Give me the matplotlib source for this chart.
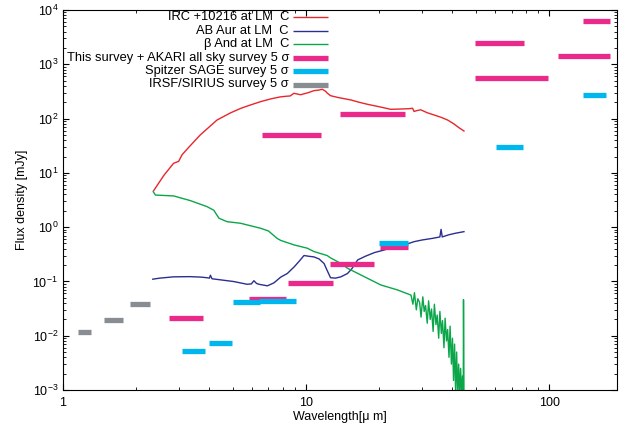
import numpy as np
import matplotlib.pyplot as plt

plt.rcParams['font.family'] = ['Liberation Sans', 'DejaVu Sans']
plt.rcParams['mathtext.fontset'] = 'custom'
plt.rcParams['mathtext.rm'] = 'Liberation Sans'

# spectra (wavelength in um, flux in mJy)
irc_wl = [2.36, 2.6, 2.85, 2.99, 3.09, 3.3, 3.67, 4.3, 4.88, 5.4, 5.9, 6.5, 7.14, 7.8,
          8.3, 8.6, 8.9, 9.5, 10.2, 10.77, 11.3, 11.65, 12.0, 12.24, 12.6, 13.5, 15.3,
          16.5, 17.9, 20.0, 22.3, 24.5, 26.5, 27.4, 27.8, 28.5, 29.6, 31.5, 33.7, 36.0,
          38.2, 40.5, 42.5, 44.6]
irc_flux = [4.7, 9.0, 15.0, 16.3, 21.6, 30.0, 50.0, 94.0, 127.0, 155.0, 178.0, 205.0,
            230.0, 250.0, 258.0, 261.0, 292.0, 275.0, 300.0, 327.0, 335.0, 347.0, 320.0,
            292.0, 264.0, 245.0, 220.0, 200.0, 183.0, 165.0, 148.0, 150.0, 152.0, 155.0,
            135.0, 140.0, 145.0, 128.0, 116.0, 105.0, 94.0, 80.0, 68.0, 59.0]

abaur_wl = [2.34, 2.5, 2.85, 3.34, 3.7, 3.91, 4.0, 4.04, 4.1, 4.44, 5.04, 5.72, 5.95, 6.1,
            6.25, 6.4, 6.93, 7.37, 7.86, 8.37, 8.93, 9.4, 9.8, 10.3, 10.77, 11.3, 11.85,
            12.2, 12.6, 13.2, 13.9, 14.8, 15.4, 16.3, 17.5, 19.1, 20.5, 22.3, 25.0, 27.8,
            30.0, 33.0, 35.5, 35.9, 36.3, 38.5, 41.0, 44.6]
abaur_flux = [0.11, 0.115, 0.1215, 0.1225, 0.12, 0.117, 0.115, 0.13, 0.112, 0.107, 0.0995,
              0.0886, 0.09, 0.103, 0.092, 0.0886, 0.083, 0.094, 0.12, 0.14, 0.1855, 0.24,
              0.3, 0.29, 0.283, 0.26, 0.214, 0.16, 0.117, 0.115, 0.1215, 0.14, 0.17, 0.249,
              0.29, 0.34, 0.37, 0.41, 0.46, 0.54, 0.58, 0.62, 0.66, 0.91, 0.66, 0.72, 0.77, 0.826]

band_wl = [2.35, 2.4, 2.85, 3.34, 3.91, 4.17, 4.38, 4.73, 5.37, 6.49, 7.0, 7.6, 7.86,
           8.93, 10.1, 10.77, 12.2, 12.6, 13.9, 14.8, 17.3, 20.3, 23.7, 27.0, 27.5, 27.9,
           28.4, 28.8, 29.3, 29.7, 30.2, 30.6, 31.0, 31.5, 31.9, 32.4, 32.8, 33.3, 33.7,
           34.2, 34.6, 35.1, 35.5, 36.0, 36.4, 36.9, 37.3, 37.8, 38.2, 38.7, 39.1, 39.6,
           40.0, 40.4, 40.8, 41.2, 41.6, 42.0, 42.4, 42.8, 43.2, 43.6, 44.0, 44.3, 44.4, 44.6]
band_flux = [4.5, 3.9, 3.76, 3.08, 2.39, 2.05, 1.46, 1.26, 1.18, 0.955, 0.85, 0.62, 0.57,
             0.47, 0.41, 0.355, 0.3, 0.272, 0.214, 0.175, 0.123, 0.086, 0.07, 0.056, 0.038,
             0.062, 0.03, 0.048, 0.041, 0.022, 0.052, 0.028, 0.036, 0.017, 0.044, 0.02,
             0.031, 0.012, 0.038, 0.016, 0.024, 0.009, 0.028, 0.011, 0.019, 0.006, 0.021,
             0.008, 0.013, 0.004, 0.015, 0.003, 0.009, 0.0015, 0.007, 0.0009, 0.005, 0.0008,
             0.003, 0.0008, 0.0025, 0.0008, 0.0018, 0.0008, 0.046, 0.0008]

# 5 sigma limits: wavelength range and flux
akari_lo = [2.72, 5.84, 8.4, 12.5, 20.2, 6.6, 13.8, 49.5, 49.5, 109.0, 138.0]
akari_hi = [3.77, 8.27, 12.9, 19.0, 26.3, 11.5, 25.4, 78.7, 99.0, 177.0, 177.0]
akari_lim = [0.0215, 0.0483, 0.094, 0.207, 0.426, 50.6, 121.6, 2435.0, 552.0, 1422.0, 6360.0]

sage_lo = [3.09, 3.97, 4.98, 6.43, 19.9, 60.6, 138.0]
sage_hi = [3.85, 4.95, 6.46, 9.11, 26.3, 78.0, 172.0]
sage_lim = [0.0052, 0.0073, 0.042, 0.0445, 0.512, 30.0, 275.0]

sirius_lo = [1.157, 1.48, 1.89]
sirius_hi = [1.305, 1.77, 2.28]
sirius_lim = [0.0119, 0.0195, 0.0385]

labels = ['IRC +10216 at LM  C', 'AB Aur at LM  C', 'β And at LM  C',
          'This survey + AKARI all sky survey 5 σ', 'Spitzer SAGE survey 5 σ',
          'IRSF/SIRIUS survey 5 σ']
colors = ['#e8262c', '#2b2f8f', '#0ba64a', '#ea2a8a', '#00b6ef', '#878d92']

W, H = 624, 429
fig = plt.figure(figsize=(W / 100, H / 100), dpi=100)
ax = fig.add_axes([63 / W, 39 / H, 554 / W, 380 / H])

ax.plot(irc_wl, irc_flux, color=colors[0], lw=1.0)
ax.plot(abaur_wl, abaur_flux, color=colors[1], lw=1.0)
ax.plot(band_wl, band_flux, color=colors[2], lw=1.0)

bar_lw = 3.8
for lo, hi, lim, col in [(akari_lo, akari_hi, akari_lim, colors[3]),
                         (sage_lo, sage_hi, sage_lim, colors[4]),
                         (sirius_lo, sirius_hi, sirius_lim, colors[5])]:
    lc = ax.hlines(lim, lo, hi, colors=col, lw=bar_lw)
    lc.set_capstyle('butt')

ax.set_xscale('log')
ax.set_yscale('log')
ax.set_xlim(1, 190)
ax.set_ylim(1e-3, 1e4)
ax.set_xticks([1, 10, 100])
ax.set_xticklabels(['1', '10', '100'])
ax.set_yticks([1e-3, 1e-2, 1e-1, 1, 10, 100, 1000, 1e4])
ax.set_yticklabels([r'$10^{-3}$', r'$10^{-2}$', r'$10^{-1}$', r'$10^{0}$',
                    r'$10^{1}$', r'$10^{2}$', r'$10^{3}$', r'$10^{4}$'])
ax.tick_params(which='both', direction='in', top=True, right=True, labelsize=9)
ax.tick_params(which='major', length=4.5, width=0.8)
ax.tick_params(which='minor', length=2.5, width=0.6)
ax.tick_params(axis='x', pad=5)

ax.set_xlabel('Wavelength[μ m]', fontsize=9)
ax.xaxis.set_label_coords(0.5, -(411 - 390) / 380)
ax.set_ylabel('Flux density [mJy]', fontsize=9)
ax.yaxis.set_label_coords(-(63 - 28) / 554, 0.5)

# gnuplot-style key: right-aligned text, sample line after it
for i, (lab, col) in enumerate(zip(labels, colors)):
    yk = 1 - (17 + 13.5 * i) / H
    fig.text(289 / W, yk, lab, ha='right', va='center', fontsize=9.3)
    fig.add_artist(plt.Line2D([293 / W, 328 / W], [yk, yk], color=col,
                              lw=1.0 if i < 3 else bar_lw, solid_capstyle='butt',
                              transform=fig.transFigure))

fig.savefig('out.png', dpi=100)
